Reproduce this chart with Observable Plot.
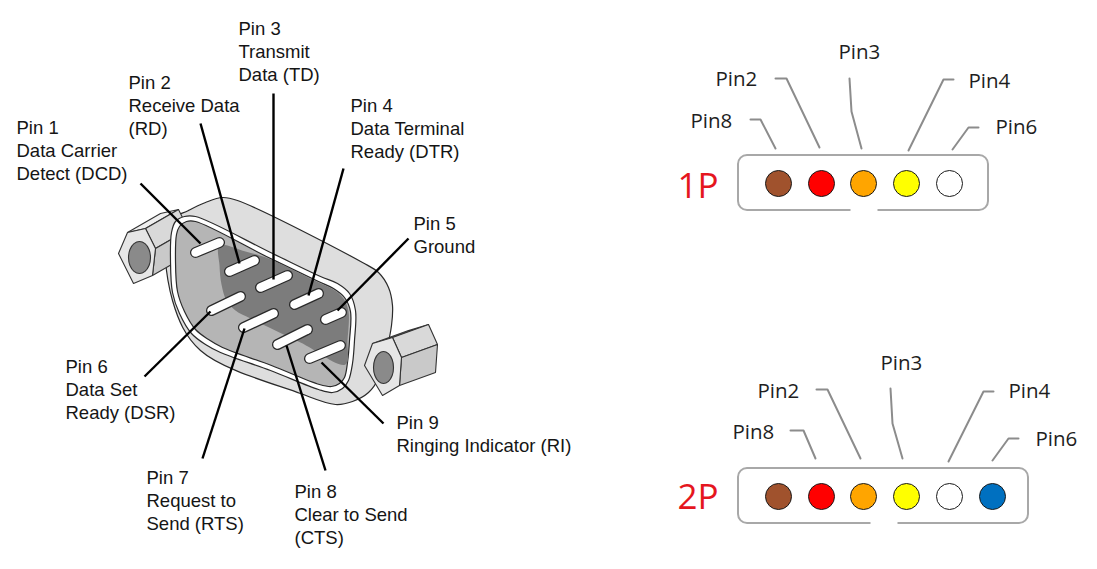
<!DOCTYPE html>
<html>
<head>
<meta charset="utf-8">
<script src="https://cdn.jsdelivr.net/npm/d3@7"></script>
<script src="https://cdn.jsdelivr.net/npm/@observablehq/plot@0.6"></script>
<style>
  html, body { margin: 0; padding: 0; background: #ffffff; }
  #chart svg { display: block; }
</style>
</head>
<body>
<div id="chart"></div>
<script>
// ---------------- DB9 connector (left) ----------------
const db9Pins = [1, 2, 3, 4, 5, 6, 7, 8, 9];
const db9Text = [
  ["Pin 1", "Data Carrier", "Detect (DCD)"],
  ["Pin 2", "Receive Data", "(RD)"],
  ["Pin 3", "Transmit", "Data (TD)"],
  ["Pin 4", "Data Terminal", "Ready (DTR)"],
  ["Pin 5", "Ground"],
  ["Pin 6", "Data Set", "Ready (DSR)"],
  ["Pin 7", "Request to", "Send (RTS)"],
  ["Pin 8", "Clear to Send", "(CTS)"],
  ["Pin 9", "Ringing Indicator (RI)"]
];
const db9TextX = [16, 128, 238, 350, 413, 65, 146, 294, 396];
const db9TextY = [133, 88, 34, 111, 229, 372, 483, 497, 428];
const db9PinStart = [[195,252],[229,271],[260,287],[294,304],[325,319],[211,310],[243,327],[277,344],[309,358]];
const db9PinEnd   = [[219,242],[254,260],[287,275],[318,293],[341,312],[240,296],[273,313],[307,329],[340,345]];
const db9LeaderFrom = [[140,183],[200,123],[273,93],[343,168],[408,238],[144,376],[202,458],[325,470],[383,423]];
const db9LeaderTo   = [[200,243],[239,263],[273,279],[308,295],[337,310],[210,311],[244,328],[286,345],[321,362]];

// connector body outlines
const flangeOutline = [[168,222],[188,210],[205,202],[222,197],[237,200],[362,262],[378,272],[388,287],[392,305],[391,325],[386,350],[378,378],[368,392],[352,401],[335,404],[300,393],[200,350],[172,300]];
const shellOuter = [[171,232],[175,221],[184,216],[195,216],[270,252],[320,276],[337,283],[349,293],[355,310],[354,340],[352,363],[348,380],[342,388],[332,392],[318,389],[270,370],[220,352],[205,344],[191,333],[179,313],[172,292],[170,260]];
const shellInner = [[176,234],[179,226],[186,221],[195,221],[268,257],[318,281],[333,288],[344,297],[350,311],[349,340],[347,362],[344,377],[339,383],[331,386],[319,384],[271,365],[222,347],[208,339],[195,329],[184,311],[177,291],[175,260]];
const pinWell = [[219,245],[245,251],[268,258],[318,282],[333,289],[343,298],[348,311],[347,340],[345,364],[300,342],[250,318],[235,310],[226,300],[221,284],[219,265]];
// hex nuts: front hexagon (L, UL, UR, R, LR, LL), depth offset, hole centre and radii
const nutLeftHex = [[118,253],[127,232],[145,228],[155,248],[152,275],[133,283]];
const nutLeftDepth = [33,-19];
const nutLeftHole = [139,257,11,16];
const nutRightHex = [[364,365],[372,343],[392,337],[401,357],[399,385],[382,395]];
const nutRightDepth = [36,-13];
const nutRightHole = [383,367,10,16];

// ---------------- Cable pinouts (right) ----------------
const cableNames = ["1P", "2P"];
const cableNameX = [677, 677];
const cableNameY = [197, 508];
const boxX1 = [738, 738], boxX2 = [988, 1028], boxY1 = [155, 468], boxY2 = [210, 523];
const boxGapX1 = [850, 870], boxGapX2 = [877, 897];

const wireColors1P = ["#a0522d", "#ff0000", "#ffa500", "#ffff00", "#ffffff"];
const wireX1P = [778, 821, 863, 906, 949];
const wireY1P = 183;
const wireColors2P = ["#a0522d", "#ff0000", "#ffa500", "#ffff00", "#ffffff", "#0070c0"];
const wireX2P = [778, 821, 863, 906, 949, 992];
const wireY2P = 496;

const pinNames1P = ["Pin8", "Pin2", "Pin3", "Pin4", "Pin6"];
const pinLabelX1P = [690, 715, 838, 968, 995];
const pinLabelY1P = [127, 85, 58, 87, 133];
const pinLeaders1P = [
  [[750,119],[760,119],[775,148]],
  [[775,78],[786,78],[819,147]],
  [[849,78],[851,111],[861,148]],
  [[953,79],[943,79],[908,150]],
  [[978,127],[968,127],[952,149]]
];
const pinNames2P = ["Pin8", "Pin2", "Pin3", "Pin4", "Pin6"];
const pinLabelX2P = [732, 757, 880, 1008, 1035];
const pinLabelY2P = [438, 397, 369, 397, 445];
const pinLeaders2P = [
  [[790,430],[803,430],[815,458]],
  [[816,389],[827,389],[860,458]],
  [[890,388],[892,423],[902,458]],
  [[993,391],[983,391],[948,461]],
  [[1018,438],[1008,438],[992,460]]
];

// ---------------- build tables ----------------
const LINE_STEP = 23;
const db9TextRows = db9Text.flatMap((lines, i) =>
  lines.map((t, j) => ({pin: db9Pins[i], x: db9TextX[i], y: db9TextY[i] + j * LINE_STEP, text: t})));
const db9PinRows = db9Pins.map((p, i) => ({pin: p, x1: db9PinStart[i][0], y1: db9PinStart[i][1], x2: db9PinEnd[i][0], y2: db9PinEnd[i][1]}));
const db9LeaderRows = db9Pins.map((p, i) => ({pin: p, x1: db9LeaderFrom[i][0], y1: db9LeaderFrom[i][1], x2: db9LeaderTo[i][0], y2: db9LeaderTo[i][1]}));

function nutFaces(hex, d) {
  const s = p => [p[0] + d[0], p[1] + d[1]];
  const [L, UL, UR, R, LR, LL] = hex;
  return {
    top: [UL, UR, s(UR), s(UL)],
    side1: [UR, R, s(R), s(UR)],
    side2: [R, LR, s(LR), s(R)]
  };
}
function ellipsePts(h) {
  const [cx, cy, rx, ry] = h;
  return d3.range(12).map(k => [cx + rx * Math.cos(k * Math.PI / 6), cy + ry * Math.sin(k * Math.PI / 6)]);
}
function poly(pts, fill, stroke, sw, curve) {
  return Plot.line(pts, {x: d => d[0], y: d => d[1], fill, stroke, strokeWidth: sw, curve, strokeLinejoin: "round"});
}
function nutMarks(hex, depth, hole) {
  const f = nutFaces(hex, depth);
  return [
    poly(f.top, "#efefef", "#333", 1.1, "linear-closed"),
    poly(f.side1, "#d9d9d9", "#333", 1.1, "linear-closed"),
    poly(f.side2, "#c9c9c9", "#333", 1.1, "linear-closed"),
    poly(hex, "#e6e6e6", "#333", 1.1, "linear-closed"),
    poly(ellipsePts(hole), "#8a8a8a", "#333", 1.1, "catmull-rom-closed")
  ];
}

const boxRows = cableNames.map((n, i) => ({name: n, x1: boxX1[i], x2: boxX2[i], y1: boxY1[i], y2: boxY2[i]}));
const gapRows = cableNames.map((n, i) => ({name: n, x1: boxGapX1[i], x2: boxGapX2[i], y: boxY2[i]}));
const nameRows = cableNames.map((n, i) => ({name: n, x: cableNameX[i], y: cableNameY[i]}));
const wireRows = [
  ...wireColors1P.map((c, i) => ({cable: "1P", x: wireX1P[i], y: wireY1P, color: c})),
  ...wireColors2P.map((c, i) => ({cable: "2P", x: wireX2P[i], y: wireY2P, color: c}))
];
const pinLabelRows = [
  ...pinNames1P.map((t, i) => ({cable: "1P", x: pinLabelX1P[i], y: pinLabelY1P[i], text: t})),
  ...pinNames2P.map((t, i) => ({cable: "2P", x: pinLabelX2P[i], y: pinLabelY2P[i], text: t}))
];
const pinLeaderRows = [
  ...pinLeaders1P.flatMap((pts, i) => pts.map(p => ({id: "1P-" + i, x: p[0], y: p[1]}))),
  ...pinLeaders2P.flatMap((pts, i) => pts.map(p => ({id: "2P-" + i, x: p[0], y: p[1]})))
];

const chart = Plot.plot({
  width: 1097,
  height: 569,
  margin: 0,
  x: {domain: [0, 1097], range: [0, 1097], axis: null},
  y: {domain: [0, 569], range: [0, 569], axis: null},
  color: {type: "identity"},
  style: {background: "#ffffff"},
  marks: [
    // connector body
    poly(flangeOutline, "#dedede", "#2a2a2a", 1.2, "catmull-rom-closed"),
    ...nutMarks(nutLeftHex, nutLeftDepth, nutLeftHole),
    poly(shellOuter, "#ffffff", "#2a2a2a", 1.2, "catmull-rom-closed"),
    poly(shellInner, "#b5b5b5", "#2a2a2a", 1.2, "catmull-rom-closed"),
    poly(pinWell, "#7c7c7c", "none", 0, "catmull-rom-closed"),
    // pins
    Plot.link(db9PinRows, {x1: "x1", y1: "y1", x2: "x2", y2: "y2", stroke: "#2a2a2a", strokeWidth: 11, strokeLinecap: "round"}),
    Plot.link(db9PinRows, {x1: "x1", y1: "y1", x2: "x2", y2: "y2", stroke: "#ffffff", strokeWidth: 8.5, strokeLinecap: "round"}),
    ...nutMarks(nutRightHex, nutRightDepth, nutRightHole),
    // leaders & labels
    Plot.link(db9LeaderRows, {x1: "x1", y1: "y1", x2: "x2", y2: "y2", stroke: "#000000", strokeWidth: 2.4}),
    Plot.text(db9TextRows, {x: "x", y: "y", text: "text", textAnchor: "start", lineAnchor: "bottom",
      fontSize: 18.5, fontFamily: "Liberation Sans, Arial, sans-serif", fill: "#151515"}),

    // cable boxes
    Plot.rect(boxRows, {x1: "x1", x2: "x2", y1: "y1", y2: "y2", rx: 9, fill: "none", stroke: "#a8a8a8", strokeWidth: 2}),
    Plot.link(gapRows, {x1: "x1", x2: "x2", y1: "y", y2: "y", stroke: "#ffffff", strokeWidth: 5}),
    Plot.dot(wireRows, {x: "x", y: "y", r: 13, fill: "color", stroke: "#1a1a1a", strokeWidth: 1}),
    Plot.line(pinLeaderRows, {x: "x", y: "y", z: "id", stroke: "#8c8c8c", strokeWidth: 2}),
    Plot.text(pinLabelRows, {x: "x", y: "y", text: "text", textAnchor: "start", lineAnchor: "bottom",
      fontSize: 20.5, fontFamily: "Open Sans, Noto Sans, sans-serif", fill: "#1e1e1e"}),
    Plot.text(nameRows, {x: "x", y: "y", text: "name", textAnchor: "start", lineAnchor: "bottom",
      fontSize: 35, fontFamily: "Open Sans, Noto Sans, sans-serif", fill: "#e5161e"})
  ]
});
document.getElementById("chart").appendChild(chart);
</script>
</body>
</html>
